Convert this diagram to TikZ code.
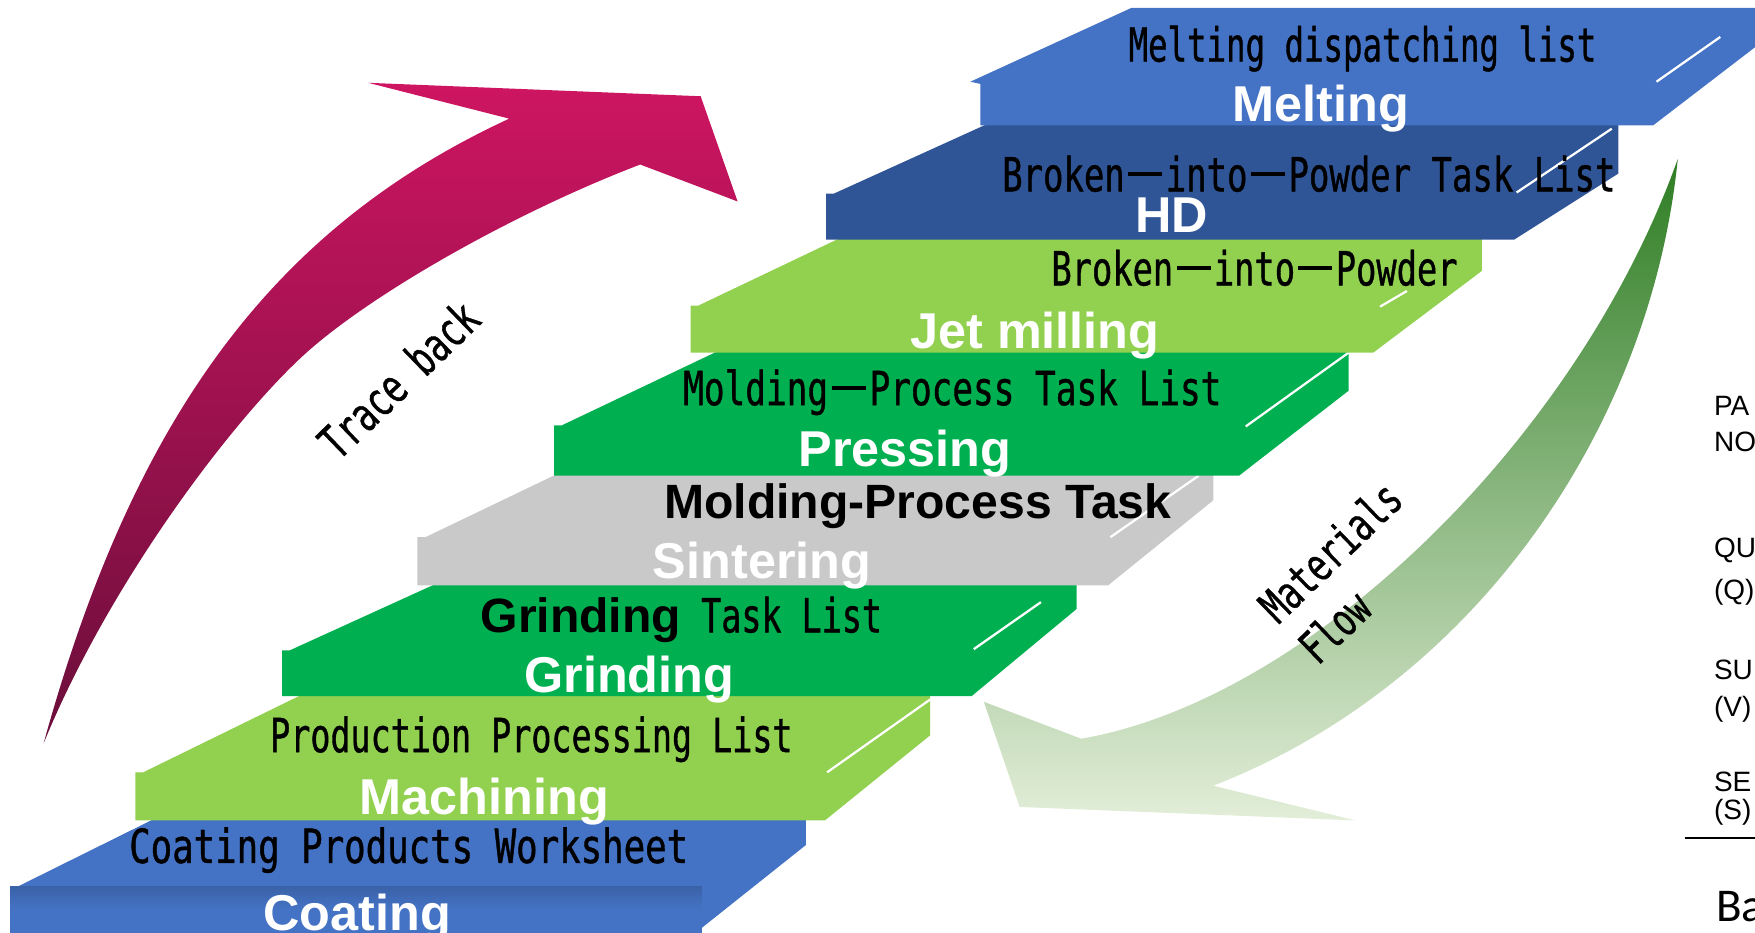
\documentclass[tikz,border=0pt]{standalone}
\usepackage{fontspec}
\newfontfamily\monof[FakeStretch=0.71,FakeBold=0.8]{DejaVu Sans Mono}
\newfontfamily\lsans{Liberation Sans}
\newfontfamily\carl{Carlito}
\newcommand\fwd{\kern1.5pt\rule[6.8pt]{15pt}{1.7pt}\kern1.5pt}
\definecolor{blueA}{HTML}{4472C4}
\definecolor{blueD}{HTML}{2F5597}
\definecolor{coatDark}{HTML}{3A62A8}
\definecolor{lgreen}{HTML}{92D050}
\definecolor{dgreen}{HTML}{00B050}
\definecolor{slabgray}{HTML}{C9C9C9}
\definecolor{tbTop}{HTML}{CE1562}
\definecolor{tbMid}{HTML}{BC145C}
\definecolor{tbBot}{HTML}{6A0E3A}
\definecolor{mfTop}{HTML}{2E7D23}
\definecolor{mfMid}{HTML}{8DB46C}
\definecolor{mfBot}{HTML}{E3EED9}
\begin{document}
\begin{tikzpicture}[x=0.5pt,y=-0.5pt,
  lbl/.style={font=\lsans\bfseries\fontsize{22.5}{24}\selectfont, text=white, inner sep=0pt, anchor=base west},
  bk/.style={font=\lsans\bfseries\fontsize{21.5}{24}\selectfont, text=black, inner sep=0pt, anchor=base west},
  txt/.style={font=\monof\fontsize{21}{24}\selectfont, text=black, inner sep=0pt, anchor=base west},
  sidetxt/.style={font=\lsans\fontsize{12.5}{15}\selectfont, text=black, inner sep=0pt, anchor=base west},
  hl/.style={white, line width=1pt}]
\useasboundingbox (0,0) rectangle (1568,833);

% ---------- Trace back arrow ----------
\shade[top color=tbTop, middle color=tbMid, bottom color=tbBot]
  (39,664) .. controls (120,371) and (245,203) .. (455,106)
  -- (329,74) -- (626,86) -- (659,180) -- (572,147)
  .. controls (462,189) and (336,260) .. (275,314)
  .. controls (214,368) and (100,515) .. (39,664)
  -- cycle;

% ---------- Materials flow arrow ----------
\shade[top color=mfTop, middle color=mfMid, bottom color=mfBot]
  (1499,142) .. controls (1475,380) and (1320,610) .. (1084,702)
  -- (1211,733) -- (911,721) -- (879,627) -- (966,660)
  .. controls (1170,625) and (1410,392) .. (1499,142)
  -- cycle;

% ---------- Slabs (bottom to top) ----------
% Coating
\fill[blueA] (9,845) -- (9,792) -- (16,792) -- (139,731) -- (720,731) -- (720,755) -- (627,829) -- (627,845) -- cycle;
\shade[top color=coatDark, bottom color=blueA] (9,792) rectangle (627,812);
% Machining
\fill[lgreen] (121,733) -- (121,690) -- (128,690) -- (271,620) -- (831,620) -- (831,657) -- (737,733) -- cycle;
\draw[hl] (739,690) -- (831,625);
% Grinding
\fill[dgreen] (252,622) -- (252,581) -- (259,581) -- (393,520) -- (962,520) -- (962,544) -- (868,622) -- cycle;
\draw[hl] (870,580) -- (930,538);
% Sintering
\fill[slabgray] (373,523) -- (373,480) -- (380,480) -- (505,420) -- (1084,420) -- (1084,447) -- (990,523) -- cycle;
\draw[hl] (992,480) -- (1071,425);
% Pressing
\fill[dgreen] (495,425) -- (495,380) -- (502,380) -- (645,312) -- (1205,312) -- (1205,349) -- (1107,425) -- cycle;
\draw[hl] (1113,381) -- (1205,315);
% Jet milling
\fill[lgreen] (617,315) -- (617,273) -- (624,273) -- (752,212) -- (1324,212) -- (1324,242) -- (1227,315) -- cycle;
\draw[hl] (1233,274) -- (1257,260);
% HD
\fill[blueD] (738,214) -- (738,173) -- (745,173) -- (886,109) -- (1446,109) -- (1446,155) -- (1353,214) -- cycle;
\draw[hl] (1355,172) -- (1440,115);
% Melting
\fill[blueA] (876,112) -- (876,75) -- (867,73) -- (1011,7) -- (1580,7) -- (1580,33) -- (1477,112) -- cycle;
\draw[hl] (1480,73) -- (1537,33);

% ---------- Texts ----------
\node[txt, xscale=0.97] (t1) at (1008,55) {Melting dispatching list};
\node[lbl] (l1) at (1101,109) {Melting};
\node[txt, xscale=1.017] (t2) at (895,171) {Broken\fwd into\fwd Powder Task List};
\node[lbl] (l2) at (1014,208) {HD};
\node[txt, xscale=1.01] (t3) at (939,255) {Broken\fwd into\fwd Powder};
\node[lbl] (l3) at (813,311) {Jet milling};
\node[txt, xscale=1.03] (t4) at (610,362) {Molding\fwd Process Task List};
\node[lbl] (l4) at (713,417) {Pressing};
\node[bk]  (t5) at (593,463) {Molding-Process Task};
\node[lbl] (l5) at (583,517) {Sintering};
\node[txt] (t6) at (429,565) {{\lsans\bfseries\fontsize{21.5}{24}\selectfont Grinding} Task List};
\node[lbl] (l6) at (468,619) {Grinding};
\node[txt] (t7) at (241,672) {Production Processing List};
\node[lbl] (l7) at (321,728) {Machining};
\node[txt, xscale=1.07] (t8) at (115,771) {Coating Products Worksheet};
\node[lbl] (l8) at (235,831) {Coating};

\node[font=\monof\fontsize{21}{24}\selectfont, rotate=44, inner sep=0pt] (tb) at (356,339) {Trace back};
\node[font=\monof\fontsize{20.5}{25.5}\selectfont, rotate=44, align=left, inner sep=0pt] (mf) at (1206,511) {Materials\\Flow};

% ---------- Cut-off column at right ----------
\node[sidetxt] (s1) at (1531,371) {PA};
\node[sidetxt] (s2) at (1531,403) {NO};
\node[sidetxt] (s3) at (1531,498) {QU};
\node[sidetxt] (s4) at (1531,536) {(Q)};
\node[sidetxt] (s5) at (1531,607) {SU};
\node[sidetxt] (s6) at (1531,640) {(V)};
\node[sidetxt] (s7) at (1531,707) {SE};
\node[sidetxt] (s8) at (1531,732) {(S)};
\coordinate (r1) at (1505,749);
\coordinate (r2) at (1572,749);
\draw[line width=0.8pt] (r1) -- (r2);
\node[font=\carl\fontsize{21}{24}\selectfont, inner sep=0pt, anchor=base west] (ba) at (1533,823) {Ba};
\end{tikzpicture}
\end{document}
